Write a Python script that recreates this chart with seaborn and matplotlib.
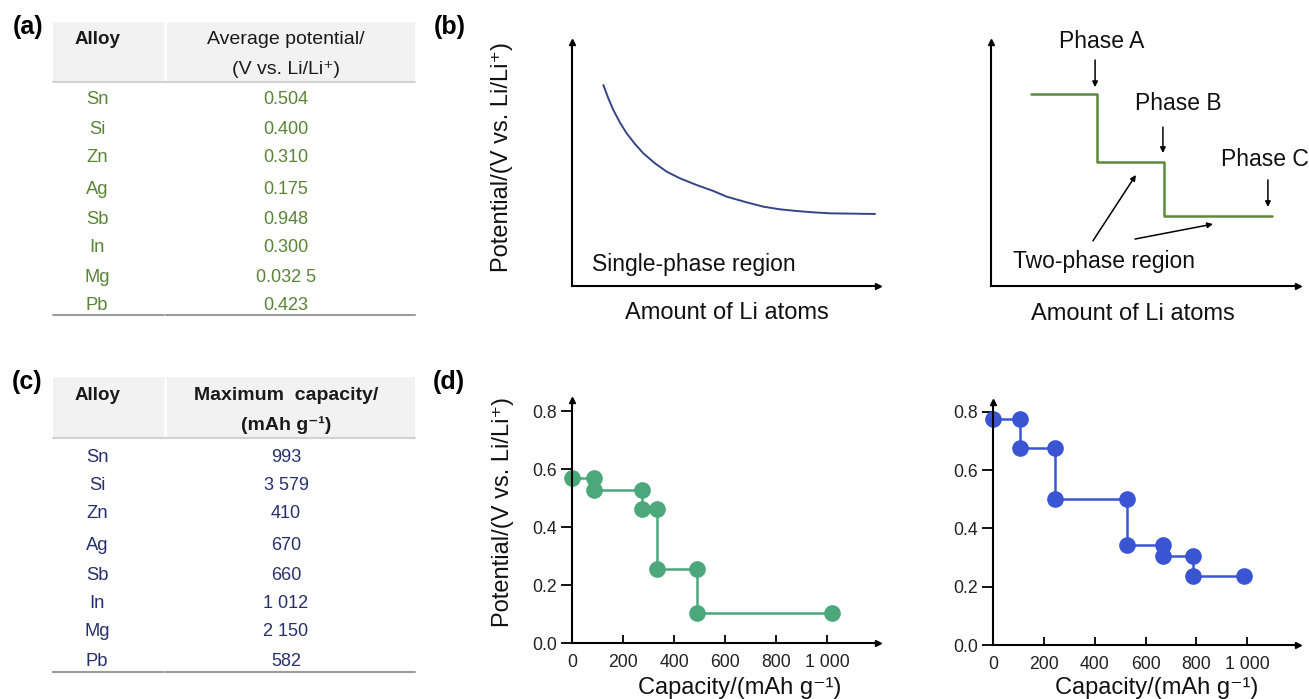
import matplotlib
matplotlib.use('Agg')
import matplotlib.pyplot as plt
import seaborn as sns
import pandas as pd
from matplotlib.patches import Rectangle

sns.set_theme(style='white')
plt.rcParams['font.family'] = ['Liberation Sans', 'DejaVu Sans']

# ---------------- data ----------------
alloys = ['Sn', 'Si', 'Zn', 'Ag', 'Sb', 'In', 'Mg', 'Pb']
avg_potential = ['0.504', '0.400', '0.310', '0.175', '0.948', '0.300', '0.032 5', '0.423']
max_capacity = ['993', '3 579', '410', '670', '660', '1 012', '2 150', '582']

# (b) schematic curves (arbitrary units)
single_x = [1.024, 1.188, 1.351, 1.569, 1.787, 2.059, 2.331, 2.712, 3.094, 3.529, 4.074,
            4.619, 5.054, 5.708, 6.253, 6.797, 7.342, 7.887, 8.431, 9.194, 9.902]
single_y = [6.590, 6.153, 5.770, 5.355, 5.005, 4.656, 4.350, 4.022, 3.749, 3.530, 3.311,
            3.115, 2.929, 2.743, 2.601, 2.514, 2.459, 2.415, 2.383, 2.372, 2.361]
two_x = [1.31, 3.46, 3.46, 5.62, 5.62, 9.15]
two_y = [6.30, 6.30, 4.07, 4.07, 2.30, 2.30]

# (d) capacity vs potential
capA_x = [0, 86, 86, 275, 275, 333, 333, 490, 490, 1020]
capA_y = [0.570, 0.570, 0.528, 0.528, 0.462, 0.462, 0.255, 0.255, 0.103, 0.103]
capB_x = [0, 106, 106, 243, 243, 529, 529, 667, 667, 788, 788, 988]
capB_y = [0.776, 0.776, 0.676, 0.676, 0.501, 0.501, 0.343, 0.343, 0.306, 0.306, 0.237, 0.237]
cap_ticks = [0, 200, 400, 600, 800, 1000]
cap_ticklabels = ['0', '200', '400', '600', '800', '1 000']
pot_ticks = [0.0, 0.2, 0.4, 0.6, 0.8]
pot_ticklabels = ['0.0', '0.2', '0.4', '0.6', '0.8']

# ---------------- figure ----------------
W, H = 1309, 699
fig = plt.figure(figsize=(W / 100, H / 100), dpi=100)
fig.patch.set_facecolor('white')


def px_axes(left, top, right, bottom):
    return fig.add_axes([left / W, (H - bottom) / H, (right - left) / W, (bottom - top) / H])


overlay = fig.add_axes([0, 0, 1, 1])
overlay.set_xlim(0, W)
overlay.set_ylim(H, 0)
overlay.axis('off')
overlay.patch.set_alpha(0)

GREEN_TXT = '#5a8436'
NAVY_TXT = '#27306c'


def draw_table(top, hdr_bottom, bottom_line, hdr_lines, hdr_bold, row_ys, values, color):
    overlay.add_patch(Rectangle((53, top), 362, hdr_bottom - top, fc='#f2f2f2', ec='none'))
    overlay.plot([165, 165], [top, hdr_bottom], color='white', lw=1.8)
    overlay.plot([53, 415], [hdr_bottom, hdr_bottom], color='#d2d2d2', lw=1.5)
    overlay.plot([53, 164], [bottom_line, bottom_line], color='#9c9c9c', lw=1.5)
    overlay.plot([166, 415], [bottom_line, bottom_line], color='#9c9c9c', lw=1.5)
    overlay.text(97, top + 18, 'Alloy', fontsize=13.5, fontweight='bold', color='#1a1a1a',
                 ha='center', va='center')
    for (txt, yy) in hdr_lines:
        overlay.text(286, yy, txt, fontsize=14, fontweight=hdr_bold, color='#1a1a1a',
                     ha='center', va='center')
    for a, v, yy in zip(alloys, values, row_ys):
        overlay.text(97, yy, a, fontsize=13.2, color=color, ha='center', va='center')
        overlay.text(286, yy, v, fontsize=13, color=color, ha='center', va='center')


draw_table(22, 82, 315,
           [('Average potential/', 40), ('(V vs. Li/Li\u207a)', 70)], 'normal',
           [100, 129, 158, 190, 219, 248, 277, 305], avg_potential, GREEN_TXT)
draw_table(377, 438, 672,
           [('Maximum  capacity/', 395), ('(mAh g\u207b\u00b9)', 425)], 'bold',
           [457, 486, 514, 546, 575, 604, 632, 661], max_capacity, NAVY_TXT)

# panel letters
for lab, x, y in [('(a)', 28, 27), ('(b)', 450, 27), ('(c)', 27, 382), ('(d)', 449, 382)]:
    overlay.text(x, y, lab, fontsize=18, fontweight='bold', color='black',
                 ha='center', va='center')


def arrow_axes(ax, lw=1.5):
    for s in ['top', 'right']:
        ax.spines[s].set_visible(False)
    for s in ['left', 'bottom']:
        ax.spines[s].set_color('black')
        ax.spines[s].set_linewidth(lw)
    ax.patch.set_alpha(0)
    ax.plot(1, 0, '>', color='black', ms=5, transform=ax.transAxes, clip_on=False)
    ax.plot(0, 1, '^', color='black', ms=5, transform=ax.transAxes, clip_on=False)


# ---------------- (b) left ----------------
axb1 = px_axes(572, 42, 878, 286)
arrow_axes(axb1)
sns.lineplot(x=single_x, y=single_y, sort=False, estimator=None, color='#34458a', lw=1.4, ax=axb1)
axb1.set_xlim(0, 10)
axb1.set_ylim(0, 8)
axb1.set_xticks([])
axb1.set_yticks([])
axb1.text(0.65, 0.69, 'Single-phase region', fontsize=16.5, ha='left', va='center', color='#111111')

# ---------------- (b) right ----------------
axb2 = px_axes(991, 42, 1298, 286)
arrow_axes(axb2)
sns.lineplot(x=two_x, y=two_y, sort=False, estimator=None, color='#5a8a3a', lw=1.8, ax=axb2)
axb2.set_xlim(0, 10)
axb2.set_ylim(0, 8)
axb2.set_xticks([])
axb2.set_yticks([])
tk = dict(fontsize=16.5, color='#111111', ha='center', va='center')
axb2.text(3.62, 8.0, 'Phase A', **tk)
axb2.text(6.09, 5.97, 'Phase B', **tk)
axb2.text(8.92, 4.16, 'Phase C', **tk)
axb2.text(3.68, 0.79, 'Two-phase region', **tk)
ap = dict(arrowstyle='-|>', color='black', lw=1.1, mutation_scale=8, shrinkA=0, shrinkB=0)
for (x0, y0, x1, y1) in [(3.39, 7.41, 3.39, 6.52), (5.60, 5.21, 5.60, 4.36), (9.02, 3.48, 9.02, 2.59),
                         (3.32, 1.48, 4.72, 3.64), (4.69, 1.54, 7.23, 2.03)]:
    axb2.annotate('', xy=(x1, y1), xytext=(x0, y0), arrowprops=ap, annotation_clip=False)

lblkw = dict(fontsize=17, color='#111111', ha='center', va='center')
overlay.text(727, 313, 'Amount of Li atoms', **lblkw)
overlay.text(1133, 314, 'Amount of Li atoms', **lblkw)
overlay.text(502, 157, 'Potential/(V vs. Li/Li\u207a)', rotation=90, **lblkw)

# ---------------- (d) ----------------
def cap_axes(ax, xs, ys, color, top_val):
    arrow_axes(ax)
    sns.lineplot(x=xs, y=ys, sort=False, estimator=None, color=color, lw=1.8,
                 marker='o', markersize=12, markeredgewidth=0, ax=ax, clip_on=False)
    ax.set_xlim(0, 1200)
    ax.set_ylim(0, top_val)
    ax.set_xticks(cap_ticks)
    ax.set_xticklabels(cap_ticklabels)
    ax.set_yticks(pot_ticks)
    ax.set_yticklabels(pot_ticklabels)
    ax.tick_params(axis='x', direction='in', length=6, width=1.3, color='black', bottom=True,
                   labelsize=12.7, labelcolor='#222222', pad=8)
    ax.tick_params(axis='y', direction='out', length=8, width=1.3, color='black', left=True,
                   labelsize=12.7, labelcolor='#222222', pad=3)
    ax.set_xlabel('')
    ax.set_ylabel('')


axd1 = px_axes(572, 400, 878, 643)
cap_axes(axd1, capA_x, capA_y, '#4aa87a', 0.838)
axd2 = px_axes(993, 402, 1298, 645)
cap_axes(axd2, capB_x, capB_y, '#3a55d4', 0.834)

overlay.text(503, 512, 'Potential/(V vs. Li/Li\u207a)', rotation=90, **lblkw)
overlay.text(740, 688, 'Capacity/(mAh g\u207b\u00b9)', **lblkw)
overlay.text(1157, 688, 'Capacity/(mAh g\u207b\u00b9)', **lblkw)

fig.savefig('out.png', dpi=100)
